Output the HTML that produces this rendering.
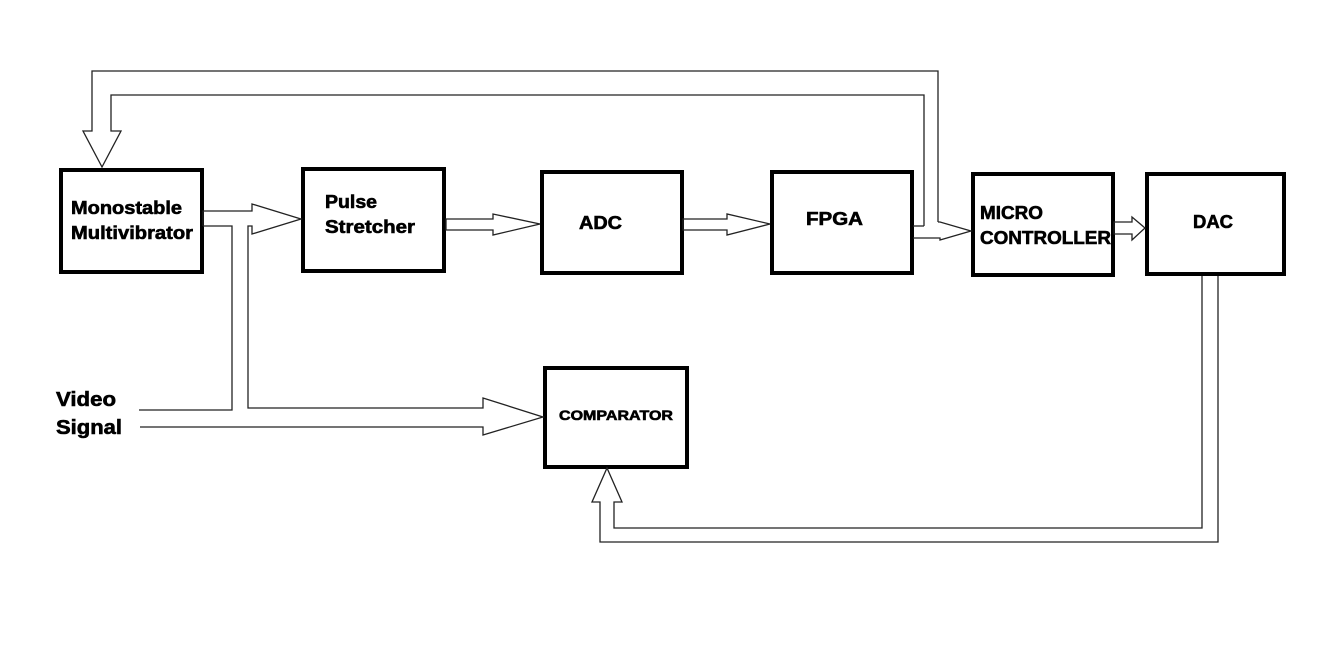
<!DOCTYPE html>
<html><head><meta charset="utf-8"><style>
html,body{margin:0;padding:0;background:#fff;}
svg{display:block;}
text{font-family:"Liberation Sans",Arial,sans-serif;font-weight:bold;fill:#000;stroke:#000;stroke-width:0.6;}
</style></head><body>
<svg width="1320" height="647" viewBox="0 0 1320 647" xmlns="http://www.w3.org/2000/svg">
<rect width="1320" height="647" fill="#fff"/>
<g fill="none" stroke="#000" stroke-width="4">
<rect x="61" y="170" width="141" height="102"/>
<rect x="303" y="169" width="141" height="102"/>
<rect x="542" y="172" width="140" height="101"/>
<rect x="772" y="172" width="140" height="101"/>
<rect x="973" y="174" width="140" height="101"/>
<rect x="1147" y="174" width="137" height="100"/>
<rect x="545" y="368" width="142" height="99"/>
</g>
<g fill="none" stroke="#222" stroke-width="1.3">
<polyline points="924,226 924,95 111,95 111,131 121,131 102,167 83,131 92,131 92,71 938,71 938,222"/>
<polyline points="203,226 203,211 252,211 252,204 301,219 252,234 252,226 248,226 248,408 483,408 483,398 543,417 483,435 483,427 140,427"/>
<polyline points="203,226 232,226 232,410 139,410"/>
<polygon points="446,219 493,219 493,214 540,224 493,235 493,230 446,230"/>
<polygon points="683,219 727,219 727,214 770,224 727,235 727,230 683,230"/>
<polyline points="913,226 924,226"/>
<polyline points="938,222 940,222 971,231 940,240 940,238 913,238"/>
<polygon points="1114,222 1132,222 1132,217 1145,228 1132,240 1132,234 1114,234"/>
<polyline points="1202,276 1202,528 614,528 614,502 622,502 607,468 592,502 600,502 600,542 1218,542 1218,276"/>
</g>
<g font-size="18">
<text x="71" y="214" textLength="111" lengthAdjust="spacingAndGlyphs">Monostable</text>
<text x="71" y="239" textLength="122" lengthAdjust="spacingAndGlyphs">Multivibrator</text>
<text x="325" y="208" textLength="52" lengthAdjust="spacingAndGlyphs">Pulse</text>
<text x="325" y="233" textLength="90" lengthAdjust="spacingAndGlyphs">Stretcher</text>
<text x="579" y="229" textLength="43" lengthAdjust="spacingAndGlyphs">ADC</text>
<text x="806" y="225" textLength="57" lengthAdjust="spacingAndGlyphs">FPGA</text>
<text x="980" y="219" textLength="63" lengthAdjust="spacingAndGlyphs">MICRO</text>
<text x="980" y="244" textLength="131" lengthAdjust="spacingAndGlyphs">CONTROLLER</text>
<text x="1193" y="228" textLength="40" lengthAdjust="spacingAndGlyphs">DAC</text>
<text x="559" y="420" font-size="14" textLength="114" lengthAdjust="spacingAndGlyphs">COMPARATOR</text>
<text x="56" y="406" font-size="20" textLength="60" lengthAdjust="spacingAndGlyphs">Video</text>
<text x="56" y="434" font-size="20" textLength="66" lengthAdjust="spacingAndGlyphs">Signal</text>
</g>
</svg>
</body></html>
